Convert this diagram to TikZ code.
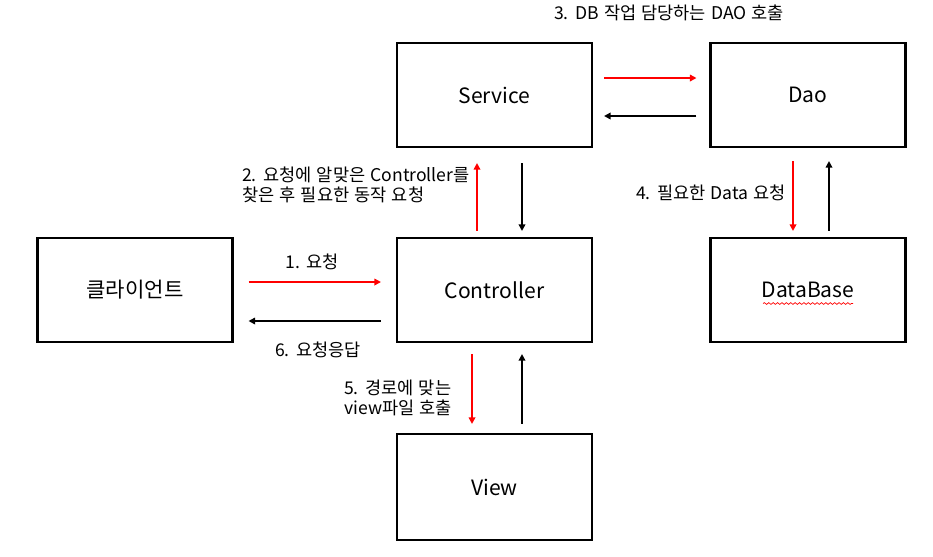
\documentclass[tikz,border=0pt]{standalone}
\usepackage{fontspec}
\setmainfont[WordSpace=1.3]{Noto Sans CJK KR}
\usetikzlibrary{arrows.meta,decorations.pathmorphing}
\newcommand{\lbl}{\fontsize{10}{11.5}\selectfont}

\begin{document}
\begin{tikzpicture}[x=0.02cm,y=-0.02cm,
  box/.style={draw,line width=1.2pt,minimum width=3.9cm,minimum height=2.08cm,font=\fontsize{12}{15}\selectfont},
  req/.style={red,line width=1.1pt,-{Triangle[length=0.13cm,width=0.13cm]}},
  res/.style={black,line width=1.1pt,-{Triangle[length=0.13cm,width=0.13cm]}},
  txt/.style={anchor=west,align=left,font=\lbl}]
\useasboundingbox (0,0) rectangle (933,556);
\node[box] (Svc) at (494.5,95) {Service};
\node[box] (Dao) at (808,95) {Dao};
\node[box] (Cli) at (135,290) {클라이언트};
\node[box] (Ctl) at (494.5,290) {Controller};
\node[box] (DB) at (808,290) {DataBase};
\node[box,minimum height=2.12cm] (View) at (494.5,487) {View};
\draw[red,line width=0.4pt,decorate,decoration={snake,amplitude=0.5pt,segment length=2.5pt}]
  ([xshift=-0.9cm,yshift=-0.27cm]DB.center) -- ([xshift=0.9cm,yshift=-0.27cm]DB.center);
\draw[req,shorten <=0.22cm,shorten >=0.26cm] ([yshift=0.34cm]Svc.east) -- ([yshift=0.34cm]Dao.west);
\draw[res,shorten <=0.26cm,shorten >=0.22cm] ([yshift=-0.42cm]Dao.west) -- ([yshift=-0.42cm]Svc.east);
\draw[req,shorten <=0.12cm,shorten >=0.3cm] ([xshift=-0.35cm]Ctl.north) -- ([xshift=-0.35cm]Svc.south);
\draw[res,shorten <=0.3cm,shorten >=0.12cm] ([xshift=0.55cm]Svc.south) -- ([xshift=0.55cm]Ctl.north);
\draw[req,shorten <=0.26cm,shorten >=0.12cm] ([xshift=-0.3cm]Dao.south) -- ([xshift=-0.3cm]DB.north);
\draw[res,shorten <=0.12cm,shorten >=0.26cm] ([xshift=0.42cm]DB.north) -- ([xshift=0.42cm]Dao.south);
\draw[req,shorten <=0.3cm,shorten >=0.3cm] ([yshift=0.16cm]Cli.east) -- ([yshift=0.16cm]Ctl.west);
\draw[res,shorten <=0.3cm,shorten >=0.3cm] ([yshift=-0.62cm]Ctl.west) -- ([yshift=-0.62cm]Cli.east);
\draw[req,shorten <=0.22cm,shorten >=0.18cm] ([xshift=-0.45cm]Ctl.south) -- ([xshift=-0.45cm]View.north);
\draw[res,shorten <=0.18cm,shorten >=0.22cm] ([xshift=0.55cm]View.north) -- ([xshift=0.55cm]Ctl.south);
\node[txt] (L3) at (548,13) {3. DB 작업 담당하는 DAO 호출};
\node[txt] (L2) at (236,185) {2. 요청에 알맞은 Controller를\\찾은 후 필요한 동작 요청};
\node[txt,anchor=center] (L1) at (312,262) {1. 요청};
\node[txt,anchor=center] (L6) at (318,350) {6. 요청응답};
\node[txt] (L5) at (338,398) {5. 경로에 맞는\\view파일 호출};
\node[txt] (L4) at (630,193) {4. 필요한 Data 요청};
\end{tikzpicture}
\end{document}
